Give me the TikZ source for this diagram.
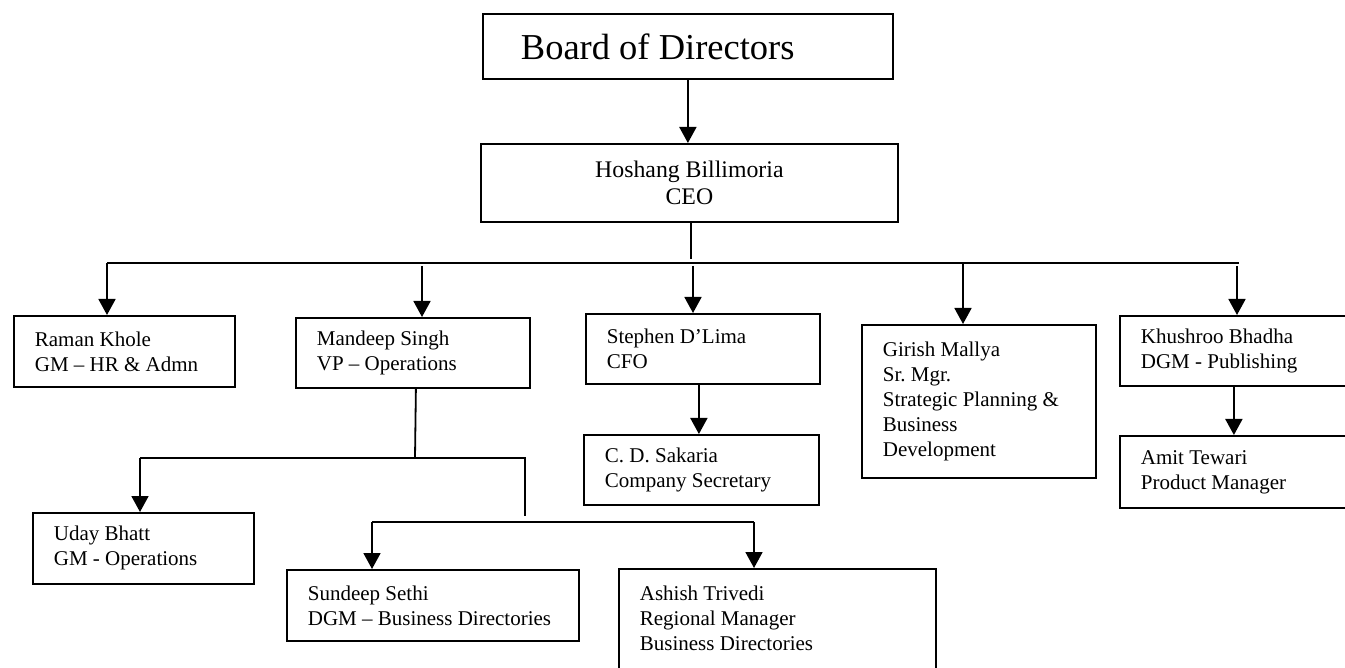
\documentclass[tikz,border=0pt]{standalone}
\usepackage{fontspec}
\setmainfont{Liberation Serif}
\usetikzlibrary{arrows.meta}

% natural, rigid word spaces inside the boxes
\newcommand{\flatspace}{\spaceskip=\fontdimen2\font\xspaceskip=\fontdimen2\font\relax}

\begin{document}
\begin{tikzpicture}[x=1pt, y=-1pt, % y runs downwards
    person/.style={draw, line width=1.8pt, anchor=north west, align=left,
        inner xsep=21pt, inner ysep=0pt, font=\fontsize{21}{25}\selectfont,
        execute at begin node=\flatspace},
    link/.style={line width=1.8pt},
    arrowlink/.style={link, -{Triangle[width=17pt, length=16pt]}}]

    % Page size
    \useasboundingbox (0,0) rectangle (1345,668);

    % Levels of the main and the lower branch lines
    \def\busY{263}
    \def\lowBusY{458}
    \def\subBusY{522}

    % Top of the chart
    \node[person, font=\fontsize{36.5}{40}\selectfont, inner xsep=38pt,
        minimum width=410pt, minimum height=65pt, text width=334pt] (board) at (482,13) {Board of Directors};
    \node[person, font=\fontsize{23.8}{27}\selectfont, align=center,
        minimum width=417pt, minimum height=78pt, text width=375pt] (ceo) at (480,143) {Hoshang Billimoria\\CEO};

    % Heads reporting to the CEO
    \node[person, minimum width=221pt, minimum height=71pt, text width=179pt] (raman) at (13,315) {Raman Khole\\GM -- HR \& Admn};
    \node[person, minimum width=234pt, minimum height=70pt, text width=192pt] (mandeep) at (295,317) {Mandeep Singh\\VP -- Operations};
    \node[person, minimum width=234pt, minimum height=70pt, text width=192pt] (stephen) at (585,313) {Stephen D'Lima\\CFO};
    \node[person, minimum width=234pt, minimum height=153pt, text width=192pt] (girish) at (861,324) {Girish Mallya\\Sr. Mgr.\\Strategic Planning \&\\Business\\Development};
    \node[person, minimum width=236pt, minimum height=70pt, text width=194pt] (khushroo) at (1119,315) {Khushroo Bhadha\\DGM - Publishing};

    % Second level
    \node[person, minimum width=235pt, minimum height=70pt, text width=193pt] (sakaria) at (583,434) {C. D. Sakaria\\Company Secretary};
    \node[person, minimum width=236pt, minimum height=72pt, text width=194pt] (amit) at (1119,435) {Amit Tewari\\Product Manager};

    % Operations team
    \node[person, minimum width=221pt, minimum height=71pt, text width=179pt] (uday) at (32,512) {Uday Bhatt\\GM - Operations};
    \node[person, minimum width=292pt, minimum height=71pt, text width=250pt] (sundeep) at (286,569) {Sundeep Sethi\\DGM -- Business Directories};
    \node[person, minimum width=317pt, minimum height=123pt, text width=275pt] (ashish) at (618,568) {Ashish Trivedi\\Regional Manager\\Business Directories\\\mbox{}};

    % Board to CEO
    \draw[arrowlink] (board.south) -- (board.south |- ceo.north);

    % CEO to main branch line
    \coordinate (ceoBus) at (691,\busY-4);
    \draw[link] (ceo.south -| ceoBus) -- (ceoBus);
    \coordinate (busL) at (107,\busY);
    \coordinate (busR) at (1239,\busY);
    \draw[link] (busL) -- (busR);

    % Arrows down from the main branch line
    \coordinate (toMandeep) at (422,\busY+3);
    \coordinate (toStephen) at (693,\busY+3);
    \coordinate (toGirish) at (963,\busY);
    \coordinate (toKhushroo) at (1237,\busY+3);
    \draw[arrowlink] (busL) -- (busL |- raman.north);
    \draw[arrowlink] (toMandeep) -- (toMandeep |- mandeep.north);
    \draw[arrowlink] (toStephen) -- (toStephen |- stephen.north);
    \draw[arrowlink] (toGirish) -- (toGirish |- girish.north);
    \draw[arrowlink] (toKhushroo) -- (toKhushroo |- khushroo.north);

    % Single reports
    \draw[arrowlink] ([xshift=-4pt]stephen.south) -- ([xshift=-4pt]stephen.south |- sakaria.north);
    \draw[arrowlink] ([xshift=-4pt]khushroo.south) -- ([xshift=-4pt]khushroo.south |- amit.north);

    % Operations branch lines
    \coordinate (opsDown) at (415,\lowBusY);
    \coordinate (lowL) at (140,\lowBusY);
    \coordinate (lowR) at (525,\lowBusY);
    \coordinate (lowDrop) at (525,\subBusY-6);
    \coordinate (subL) at (372,\subBusY);
    \coordinate (subR) at (754,\subBusY);
    \draw[link] ([xshift=3pt]mandeep.south) -- (opsDown);
    \draw[link] (lowL) -- (lowR) -- (lowDrop);
    \draw[arrowlink] (lowL) -- (lowL |- uday.north);
    \draw[link] (subL) -- (subR);
    \draw[arrowlink] (subL) -- (subL |- sundeep.north);
    \draw[arrowlink] (subR) -- (subR |- ashish.north);

\end{tikzpicture}
\end{document}
